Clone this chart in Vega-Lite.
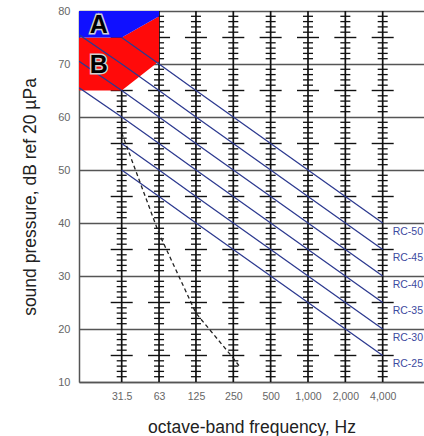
{
  "$schema": "https://vega.github.io/schema/vega-lite/v6.json",
  "autosize": {"type": "none"},
  "width": 345,
  "height": 371,
  "padding": {"left": 79, "top": 11, "right": 0, "bottom": 54},
  "background": "white",
  "config": {
    "view": {"stroke": null},
    "font": "Liberation Sans",
    "axis": {"labelFont": "Liberation Sans", "titleFont": "Liberation Sans"}
  },
  "datasets": {
    "bands": [
      {"f": 31.5, "lo": 10, "hi": 80, "minor": [11,12,13,14,16,17,18,19,21,22,23,24,26,27,28,29,31,32,33,34,36,37,38,39,41,42,43,44,46,47,48,49,51,52,53,54,56,57,58,59,61,62,63,64,66,67,68,69,71,72,73,74,76,77,78,79], "major": [15,25,35,45,55,65,75]},
      {"f": 63, "lo": 10, "hi": 80, "minor": [11,12,13,14,16,17,18,19,21,22,23,24,26,27,28,29,31,32,33,34,36,37,38,39,41,42,43,44,46,47,48,49,51,52,53,54,56,57,58,59,61,62,63,64,66,67,68,69,71,72,73,74,76,77,78,79], "major": [15,25,35,45,55,65,75]},
      {"f": 125, "lo": 10, "hi": 80, "minor": [11,12,13,14,16,17,18,19,21,22,23,24,26,27,28,29,31,32,33,34,36,37,38,39,41,42,43,44,46,47,48,49,51,52,53,54,56,57,58,59,61,62,63,64,66,67,68,69,71,72,73,74,76,77,78,79], "major": [15,25,35,45,55,65,75]},
      {"f": 250, "lo": 10, "hi": 80, "minor": [11,12,13,14,16,17,18,19,21,22,23,24,26,27,28,29,31,32,33,34,36,37,38,39,41,42,43,44,46,47,48,49,51,52,53,54,56,57,58,59,61,62,63,64,66,67,68,69,71,72,73,74,76,77,78,79], "major": [15,25,35,45,55,65,75]},
      {"f": 500, "lo": 10, "hi": 80, "minor": [11,12,13,14,16,17,18,19,21,22,23,24,26,27,28,29,31,32,33,34,36,37,38,39,41,42,43,44,46,47,48,49,51,52,53,54,56,57,58,59,61,62,63,64,66,67,68,69,71,72,73,74,76,77,78,79], "major": [15,25,35,45,55,65,75]},
      {"f": 1000, "lo": 10, "hi": 80, "minor": [11,12,13,14,16,17,18,19,21,22,23,24,26,27,28,29,31,32,33,34,36,37,38,39,41,42,43,44,46,47,48,49,51,52,53,54,56,57,58,59,61,62,63,64,66,67,68,69,71,72,73,74,76,77,78,79], "major": [15,25,35,45,55,65,75]},
      {"f": 2000, "lo": 10, "hi": 80, "minor": [11,12,13,14,16,17,18,19,21,22,23,24,26,27,28,29,31,32,33,34,36,37,38,39,41,42,43,44,46,47,48,49,51,52,53,54,56,57,58,59,61,62,63,64,66,67,68,69,71,72,73,74,76,77,78,79], "major": [15,25,35,45,55,65,75]},
      {"f": 4000, "lo": 10, "hi": 80, "minor": [11,12,13,14,16,17,18,19,21,22,23,24,26,27,28,29,31,32,33,34,36,37,38,39,41,42,43,44,46,47,48,49,51,52,53,54,56,57,58,59,61,62,63,64,66,67,68,69,71,72,73,74,76,77,78,79], "major": [15,25,35,45,55,65,75]}
    ],
    "zones": [
      {"zone": "B", "f": 14.26, "lo": 65, "hi": 75},
      {"zone": "B", "f": 31.5, "lo": 65, "hi": 75},
      {"zone": "B", "f": 63, "lo": 70.5, "hi": 79},
      {"zone": "A", "f": 14.26, "lo": 75, "hi": 80},
      {"zone": "A", "f": 31.5, "lo": 75, "hi": 80},
      {"zone": "A", "f": 63, "lo": 79, "hi": 80}
    ],
    "rc": [
      {"rc": "RC-50", "f": 31.5, "db": 75}, {"rc": "RC-50", "f": 63, "db": 70}, {"rc": "RC-50", "f": 125, "db": 65}, {"rc": "RC-50", "f": 250, "db": 60}, {"rc": "RC-50", "f": 500, "db": 55}, {"rc": "RC-50", "f": 1000, "db": 50}, {"rc": "RC-50", "f": 2000, "db": 45}, {"rc": "RC-50", "f": 4000, "db": 40},
      {"rc": "RC-45", "f": 14.3, "db": 75.5}, {"rc": "RC-45", "f": 31.5, "db": 70}, {"rc": "RC-45", "f": 63, "db": 65}, {"rc": "RC-45", "f": 125, "db": 60}, {"rc": "RC-45", "f": 250, "db": 55}, {"rc": "RC-45", "f": 500, "db": 50}, {"rc": "RC-45", "f": 1000, "db": 45}, {"rc": "RC-45", "f": 2000, "db": 40}, {"rc": "RC-45", "f": 4000, "db": 35},
      {"rc": "RC-40", "f": 14.3, "db": 70.5}, {"rc": "RC-40", "f": 31.5, "db": 65}, {"rc": "RC-40", "f": 63, "db": 60}, {"rc": "RC-40", "f": 125, "db": 55}, {"rc": "RC-40", "f": 250, "db": 50}, {"rc": "RC-40", "f": 500, "db": 45}, {"rc": "RC-40", "f": 1000, "db": 40}, {"rc": "RC-40", "f": 2000, "db": 35}, {"rc": "RC-40", "f": 4000, "db": 30},
      {"rc": "RC-35", "f": 14.3, "db": 65.5}, {"rc": "RC-35", "f": 31.5, "db": 60}, {"rc": "RC-35", "f": 63, "db": 55}, {"rc": "RC-35", "f": 125, "db": 50}, {"rc": "RC-35", "f": 250, "db": 45}, {"rc": "RC-35", "f": 500, "db": 40}, {"rc": "RC-35", "f": 1000, "db": 35}, {"rc": "RC-35", "f": 2000, "db": 30}, {"rc": "RC-35", "f": 4000, "db": 25},
      {"rc": "RC-30", "f": 31.5, "db": 55}, {"rc": "RC-30", "f": 63, "db": 50}, {"rc": "RC-30", "f": 125, "db": 45}, {"rc": "RC-30", "f": 250, "db": 40}, {"rc": "RC-30", "f": 500, "db": 35}, {"rc": "RC-30", "f": 1000, "db": 30}, {"rc": "RC-30", "f": 2000, "db": 25}, {"rc": "RC-30", "f": 4000, "db": 20},
      {"rc": "RC-25", "f": 31.5, "db": 50}, {"rc": "RC-25", "f": 63, "db": 45}, {"rc": "RC-25", "f": 125, "db": 40}, {"rc": "RC-25", "f": 250, "db": 35}, {"rc": "RC-25", "f": 500, "db": 30}, {"rc": "RC-25", "f": 1000, "db": 25}, {"rc": "RC-25", "f": 2000, "db": 20}, {"rc": "RC-25", "f": 4000, "db": 15}
    ],
    "threshold": [
      {"f": 31.5, "db": 57},
      {"f": 63, "db": 38},
      {"f": 125, "db": 23},
      {"f": 250, "db": 14.5},
      {"f": 281, "db": 12.9}
    ],
    "regions": [
      {"t": "A", "f": 20.6, "db": 77.3},
      {"t": "B", "f": 20.6, "db": 69.9}
    ]
  },
  "encoding": {
    "x": {
      "field": "f",
      "type": "quantitative",
      "scale": {"type": "log", "domain": [14.26, 8611], "nice": false},
      "axis": {
        "values": [31.5, 63, 125, 250, 500, 1000, 2000, 4000],
        "format": ",",
        "grid": false,
        "ticks": false,
        "domain": true,
        "domainColor": "#555555",
        "domainWidth": 1.5,
        "labelFontSize": 10.5,
        "labelColor": "#666666",
        "labelPadding": 9,
        "title": "octave-band frequency, Hz",
        "titleFontSize": 17.5,
        "titleFontWeight": "normal",
        "titleColor": "#222222",
        "titlePadding": 17
      }
    },
    "y": {
      "field": "db",
      "type": "quantitative",
      "scale": {"domain": [10, 80], "nice": false, "zero": false},
      "axis": {
        "values": [10, 20, 30, 40, 50, 60, 70, 80],
        "grid": true,
        "gridColor": "#555555",
        "gridWidth": 1.5,
        "ticks": false,
        "domain": true,
        "domainColor": "#555555",
        "domainWidth": 1.5,
        "labelFontSize": 11,
        "labelColor": "#666666",
        "labelPadding": 9,
        "title": "sound pressure, dB ref 20 µPa",
        "titleFontSize": 17.5,
        "titleFontWeight": "normal",
        "titleColor": "#222222",
        "titlePadding": 18
      }
    }
  },
  "layer": [
    {
      "mark": {"type": "rect", "color": "white"},
      "encoding": {
        "x": {"datum": 4600, "type": "quantitative"},
        "x2": {"datum": 8611},
        "y": {"datum": 10, "type": "quantitative"},
        "y2": {"datum": 43}
      }
    },
    {
      "data": {"name": "bands"},
      "mark": {"type": "rule", "color": "#111111", "strokeWidth": 1.7},
      "encoding": {
        "y": {"field": "lo", "type": "quantitative"},
        "y2": {"field": "hi"}
      }
    },
    {
      "data": {"name": "bands"},
      "transform": [{"flatten": ["minor"]}],
      "mark": {"type": "tick", "orient": "horizontal", "size": 10, "thickness": 1.3, "color": "#111111", "opacity": 1},
      "encoding": {
        "y": {"field": "minor", "type": "quantitative"}
      }
    },
    {
      "data": {"name": "bands"},
      "transform": [{"flatten": ["major"]}],
      "mark": {"type": "tick", "orient": "horizontal", "size": 22, "thickness": 1.4, "color": "#111111", "opacity": 1},
      "encoding": {
        "y": {"field": "major", "type": "quantitative"}
      }
    },
    {
      "data": {"name": "zones"},
      "mark": {"type": "area", "opacity": 1},
      "encoding": {
        "y": {"field": "lo", "type": "quantitative", "stack": null},
        "y2": {"field": "hi"},
        "color": {"field": "zone", "type": "nominal", "scale": {"domain": ["A", "B"], "range": ["#1010ff", "#ff0a0a"]}, "legend": null}
      }
    },
    {
      "data": {"name": "rc"},
      "mark": {"type": "line", "color": "#2d3a90", "strokeWidth": 1.3, "clip": true},
      "encoding": {
        "detail": {"field": "rc", "type": "nominal"}
      }
    },
    {
      "data": {"name": "threshold"},
      "mark": {"type": "line", "color": "#222222", "strokeWidth": 1.3, "strokeDash": [4, 3]},
      "encoding": {}
    },
    {
      "data": {"name": "rc"},
      "transform": [{"filter": "datum.f == 4000"}],
      "mark": {"type": "text", "align": "left", "baseline": "middle", "dx": 10, "dy": 8.5, "fontSize": 10.5, "color": "#3c4aa0"},
      "encoding": {
        "text": {"field": "rc", "type": "nominal"}
      }
    },
    {
      "data": {"name": "regions"},
      "mark": {"type": "text", "align": "center", "baseline": "middle", "fontSize": 25, "fontWeight": "bold", "font": "Liberation Sans", "color": "#d8d8d8", "stroke": "#d0d0d0", "strokeWidth": 3},
      "encoding": {
        "text": {"field": "t", "type": "nominal"}
      }
    },
    {
      "data": {"name": "regions"},
      "mark": {"type": "text", "align": "center", "baseline": "middle", "fontSize": 25, "fontWeight": "bold", "font": "Liberation Sans", "color": "#000000"},
      "encoding": {
        "text": {"field": "t", "type": "nominal"}
      }
    }
  ]
}
